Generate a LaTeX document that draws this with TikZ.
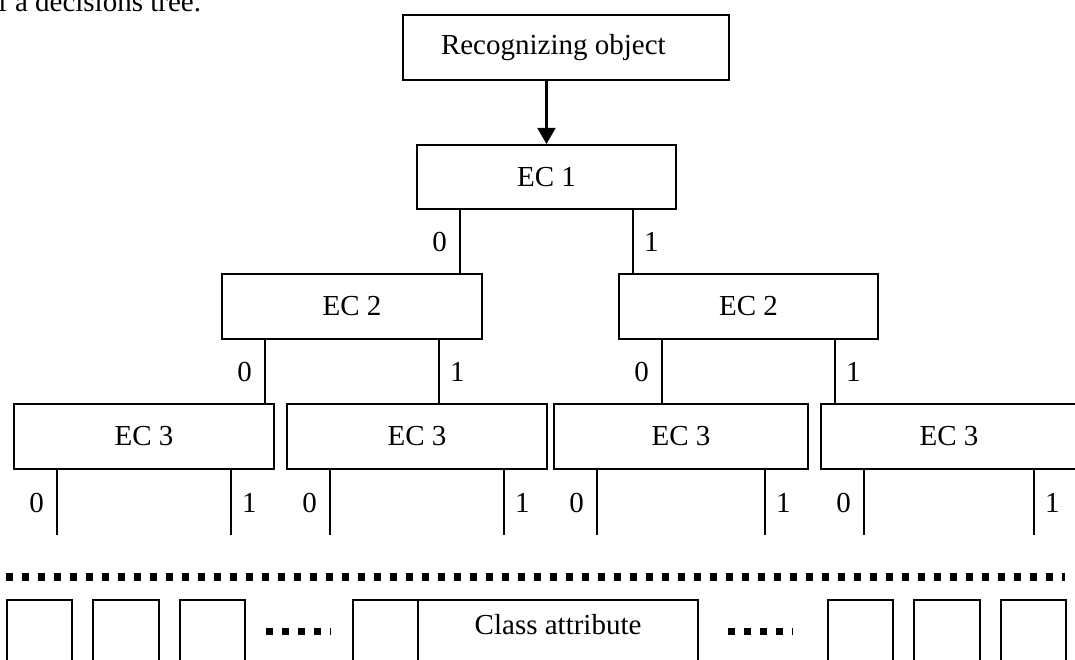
\documentclass[tikz,border=0pt]{standalone}
\usepackage{fontspec}
\setmainfont{Liberation Serif}
\usepackage{tikz}
\usetikzlibrary{arrows.meta}

\begin{document}
\begin{tikzpicture}[x=1pt, y=-1pt, line width=2.2pt,
    box/.style={draw, minimum width=260pt, minimum height=65pt, inner sep=0pt, font=\fontsize{29}{34}\selectfont},
    slot/.style={draw, anchor=north west, minimum width=65pt, minimum height=90pt, inner sep=0pt},
    bit/.style={font=\fontsize{29}{34}\selectfont, inner sep=0pt},
    dots/.style={line width=8pt, dash pattern=on 7pt off 9pt}]
    \useasboundingbox (0,0) rectangle (1075,659);
    \node[bit, anchor=base west] (cap) at (-3,11) {f a decisions tree.};
    % tree levels
    \node[box, inner xsep=38pt, text width=250pt, align=flush left] (rec) at (566,47.5) {Recognizing object};
    \node[box, minimum width=259pt, minimum height=64pt] (ec1) at (546.5,177) {EC 1};
    \node[box] (ec2a) at (352,306.5) {EC 2};
    \node[box, minimum width=259pt] (ec2b) at (748.5,306.5) {EC 2};
    \node[box] (ec3a) at (144,436.5) {EC 3};
    \node[box] (ec3b) at (417,436.5) {EC 3};
    \node[box, minimum width=254pt] (ec3c) at (681,436.5) {EC 3};
    \node[box, minimum width=256pt] (ec3d) at (949,436.5) {EC 3};
    \draw[-{Triangle[length=16pt,width=18pt]}] (ec1.north |- rec.south) -- (ec1.north);
    \foreach \up/\l/\r in {ec1/ec2a/ec2b, ec2a/ec3a/ec3b, ec2b/ec3c/ec3d} {
        \draw ([xshift=44pt]\up.south west) -- ([xshift=44pt]\up.south west |- \l.north) node[bit, midway, left=12pt] {0};
        \draw ([xshift=-44pt]\up.south east) -- ([xshift=-44pt]\up.south east |- \r.north) node[bit, midway, right=10pt] {1};
    }
    \foreach \n in {ec3a,ec3b,ec3c,ec3d} {
        \draw ([xshift=44pt]\n.south west) -- ++(0,65) node[bit, midway, left=12pt] {0};
        \draw ([xshift=-44pt]\n.south east) -- ++(0,65) node[bit, midway, right=10pt] {1};
    }
    % separator
    \coordinate (sepL) at (6,577);
    \coordinate (sepR) at (1065,577);
    \draw[dots] (sepL) -- (sepR);
    % class slots
    \node[slot] (s1) at (6,599) {};
    \node[slot, minimum width=66pt] (s2) at (92,599) {};
    \node[slot] (s3) at (179,599) {};
    \node[slot] (s4) at (352,599) {};
    \node[slot, minimum width=280pt, inner ysep=15pt, text height=19.5pt, text depth=56pt, font=\fontsize{29}{34}\selectfont] (cls) at (417,599) {Class attribute};
    \node[slot] (s5) at (827,599) {};
    \node[slot, minimum width=66pt] (s6) at (913,599) {};
    \node[slot] (s7) at (1000,599) {};
    \coordinate (gapLa) at (266,631);
    \coordinate (gapLb) at (331,631);
    \coordinate (gapRa) at (728,631);
    \coordinate (gapRb) at (793,631);
    \draw[dots, line width=7pt] (gapLa) -- (gapLb);
    \draw[dots, line width=7pt] (gapRa) -- (gapRb);
\end{tikzpicture}
\end{document}
